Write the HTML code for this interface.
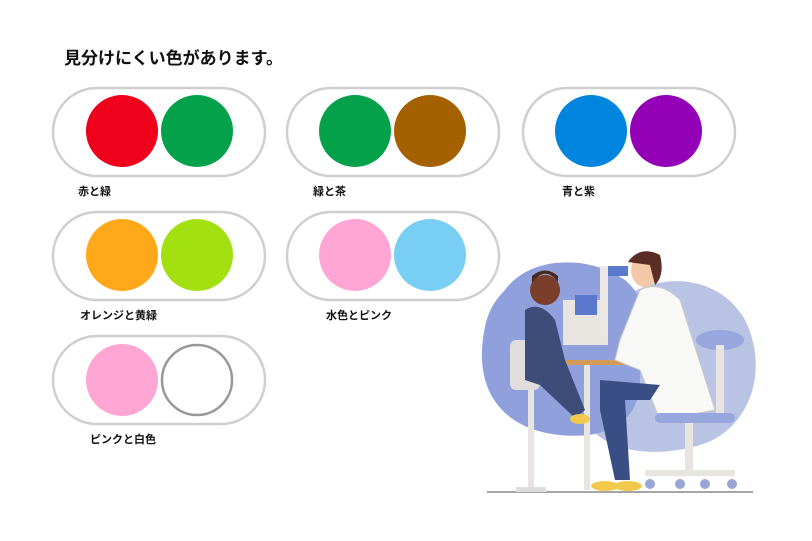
<!DOCTYPE html>
<html><head><meta charset="utf-8"><style>
body{margin:0;width:812px;height:541px;background:#fff;overflow:hidden;position:relative;font-family:"Liberation Sans","Noto Sans CJK JP",sans-serif}
.t{position:absolute;left:64px;top:44px;font-size:17px;font-weight:bold;color:#111}
.l{position:absolute;font-size:11px;font-weight:bold;color:#111}
</style></head><body>
<div class="t">見分けにくい色があります。</div>
<svg width="812" height="541" style="position:absolute;left:0;top:0">
<g fill="none" stroke="#cfcfcf" stroke-width="2.5">
<rect x="53" y="88" width="212" height="88" rx="44"/>
<rect x="287" y="88" width="212" height="88" rx="44"/>
<rect x="523" y="88" width="212" height="88" rx="44"/>
<rect x="53" y="212" width="212" height="88" rx="44"/>
<rect x="287" y="212" width="212" height="88" rx="44"/>
<rect x="53" y="336" width="212" height="88" rx="44"/>
</g>
<circle cx="122" cy="131" r="36" fill="#ef001b"/><circle cx="197" cy="131" r="36" fill="#03a24a"/>
<circle cx="355" cy="131" r="36" fill="#03a24a"/><circle cx="430" cy="131" r="36" fill="#a56000"/>
<circle cx="591" cy="131" r="36" fill="#0085df"/><circle cx="666" cy="131" r="36" fill="#9400b5"/>
<circle cx="122" cy="255" r="36" fill="#ffa81a"/><circle cx="197" cy="255" r="36" fill="#a3e011"/>
<circle cx="355" cy="255" r="36" fill="#ffa6d4"/><circle cx="430" cy="255" r="36" fill="#78cff3"/>
<circle cx="122" cy="380" r="36" fill="#ffa6d4"/><circle cx="197" cy="380" r="35" fill="#fff" stroke="#999" stroke-width="2.5"/>
<!-- illustration -->
<path d="M620 300 C660 270 720 275 745 320 C770 370 750 430 700 445 C650 460 600 450 585 420 C570 380 590 320 620 300Z" fill="#b9c3e3"/>
<path d="M505 290 C530 255 590 255 625 280 C660 310 640 350 640 380 C640 420 610 440 560 435 C510 430 480 400 482 350 C484 320 490 305 505 290Z" fill="#8fa0dc"/>
<line x1="487" y1="492" x2="753" y2="492" stroke="#888" stroke-width="1.5"/>
<rect x="510" y="340" width="30" height="50" rx="6" fill="#e0ddda"/>
<rect x="528" y="390" width="6" height="100" fill="#e8e4df"/><rect x="516" y="487" width="30" height="5" fill="#ddd"/>
<rect x="584" y="365" width="6" height="125" fill="#e8e4df"/>
<rect x="552" y="360" width="88" height="5" fill="#d49a5a"/>
<rect x="563" y="300" width="45" height="45" fill="#e8e4df"/><rect x="575" y="295" width="22" height="20" fill="#5b79cc"/>
<rect x="600" y="266" width="8" height="70" fill="#ebe7e2"/><rect x="608" y="266" width="20" height="10" fill="#5b79cc"/>
<path d="M525 310 Q540 300 555 320 L565 360 L585 410 L575 418 L540 385 L525 380Z" fill="#3d4d7a"/>
<circle cx="545" cy="290" r="15" fill="#7a3e2a"/><path d="M532 283 Q545 265 558 282 L558 276 Q545 265 532 276Z" fill="#4a2a1f"/>
<ellipse cx="580" cy="419" rx="10" ry="5" fill="#f2c94c"/>
<path d="M640 290 Q660 280 680 300 L715 410 L660 420 L640 370 L615 360 L620 340Z" fill="#f8f8f6" stroke="#ccc"/>
<path d="M600 380 L660 385 L650 400 L625 400 L630 480 L615 480 L600 410Z" fill="#3a4e86"/>
<ellipse cx="645" cy="270" rx="14" ry="17" fill="#f4c7a6"/><path d="M628 262 Q640 245 660 255 Q665 275 655 285 L650 265Z" fill="#5a2e24"/>
<ellipse cx="605" cy="486" rx="14" ry="5" fill="#f2c94c"/><ellipse cx="628" cy="486" rx="14" ry="5" fill="#f2c94c"/>
<ellipse cx="720" cy="340" rx="24" ry="10" fill="#97a6dc"/><rect x="716" y="345" width="8" height="70" fill="#e8e4df"/>
<rect x="655" y="413" width="80" height="10" rx="5" fill="#97a6dc"/><rect x="685" y="423" width="8" height="50" fill="#e8e4df"/>
<rect x="645" y="470" width="90" height="6" fill="#e8e4df"/>
<circle cx="650" cy="484" r="5" fill="#9aa6d6"/><circle cx="680" cy="484" r="5" fill="#9aa6d6"/><circle cx="705" cy="484" r="5" fill="#9aa6d6"/><circle cx="732" cy="484" r="5" fill="#9aa6d6"/>
</svg>
<div class="l" style="left:78px;top:183px">赤と緑</div>
<div class="l" style="left:313px;top:183px">緑と茶</div>
<div class="l" style="left:562px;top:183px">青と紫</div>
<div class="l" style="left:80px;top:307px">オレンジと黄緑</div>
<div class="l" style="left:326px;top:307px">水色とピンク</div>
<div class="l" style="left:90px;top:431px">ピンクと白色</div>
</body></html>
